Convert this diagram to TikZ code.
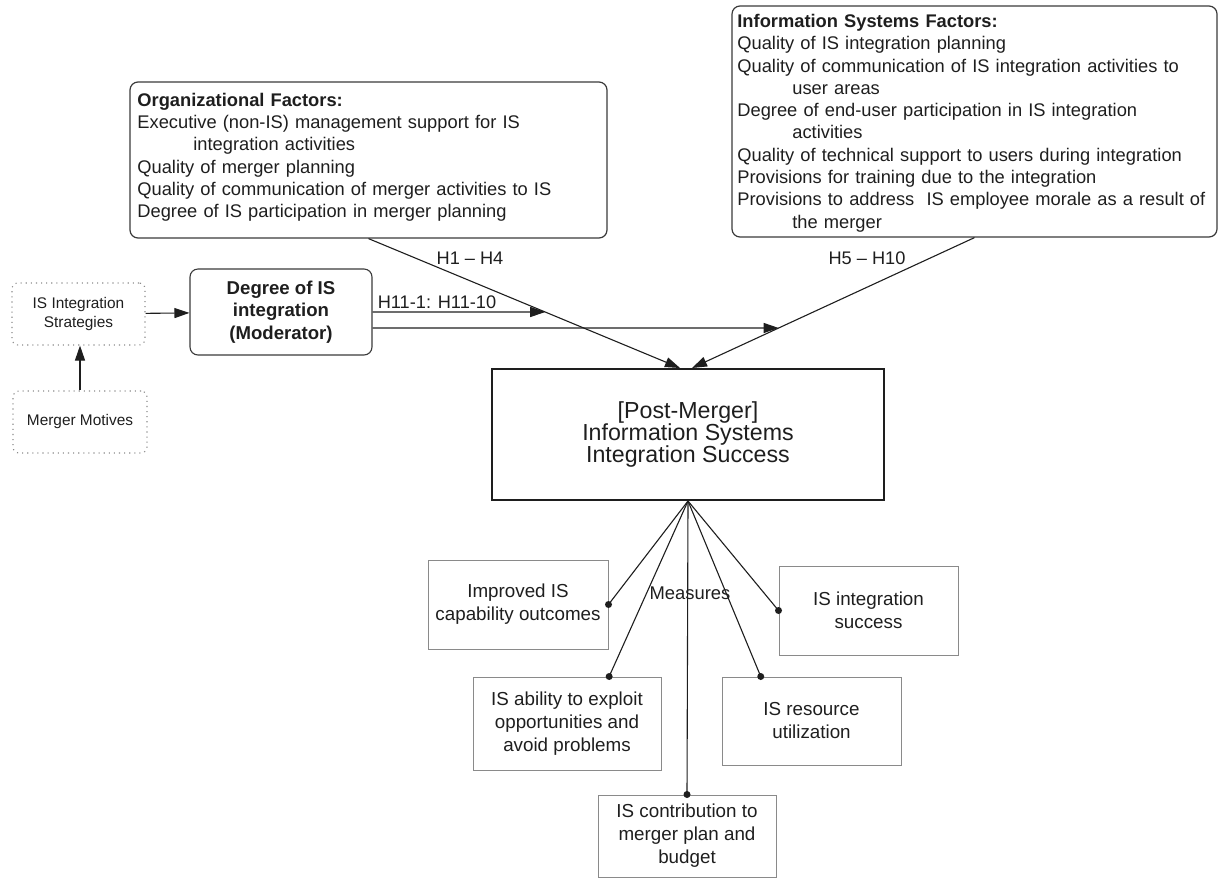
\documentclass[tikz,border=0pt]{standalone}
\usepackage{fontspec}
\setmainfont{Liberation Sans}
\usetikzlibrary{arrows.meta,calc}
\definecolor{ink}{HTML}{1E1E1E}
\definecolor{frame}{HTML}{3A3A3A}
\definecolor{soft}{HTML}{8A8A8A}

\begin{document}
\begin{tikzpicture}[x=0.5pt,y=-0.5pt,
  every node/.style={text=ink},
  factorbox/.style={draw=frame, line width=0.6pt, rounded corners=4pt, inner sep=0pt},
  factortext/.style={anchor=north west, inner sep=0pt, align=left, text width=240pt,
    font=\fontsize{9.15}{11.15}\selectfont},
  modbox/.style={draw=frame, line width=0.55pt, rounded corners=4pt, align=center,
    inner sep=0pt, font=\bfseries\fontsize{9.3}{11.25}\selectfont},
  outcome/.style={draw=ink, line width=1pt, align=center, inner sep=0pt,
    font=\fontsize{11.6}{11.1}\selectfont},
  antecedent/.style={draw=soft, dotted, line width=0.55pt, rounded corners=3pt,
    align=center, inner sep=0pt, font=\fontsize{7.7}{9.5}\selectfont},
  measure/.style={draw=soft, line width=0.5pt, align=center, inner sep=0pt,
    font=\fontsize{9.4}{11.5}\selectfont},
  hlabel/.style={inner sep=0pt, font=\fontsize{9.1}{11}\selectfont},
  link/.style={draw=ink, line width=0.55pt},
  arr/.style={link, -{Triangle[length=7.5pt,width=5pt]}},
  dot/.style={fill=ink}
]
\useasboundingbox (0,0) rectangle (1220,879);

% factor boxes
\node[factorbox, minimum width=242.5pt, minimum height=115.5pt] (isf) at (974.5,121.5) {};
\node[factortext] (isftext) at (737,11.4) {\strut\textbf{Information Systems Factors:}\\
Quality of IS integration planning\\
Quality of communication of IS integration activities to\\
\hspace*{27.5pt}user areas\\
Degree of end-user participation in IS integration\\
\hspace*{27.5pt}activities\\
Quality of technical support to users during integration\\
Provisions for training due to the integration\\
Provisions to address\ \ IS employee morale as a result of\\
\hspace*{27.5pt}the merger};

\node[factorbox, minimum width=238.5pt, minimum height=78pt] (org) at (368.5,160) {};
\node[factortext] (orgtext) at (137,90.1) {\strut\textbf{Organizational Factors:}\\
Executive (non-IS) management support for IS\\
\hspace*{28pt}integration activities\\
Quality of merger planning\\
Quality of communication of merger activities to IS\\
Degree of IS participation in merger planning};

% moderator and its antecedents
\node[modbox, minimum width=91pt, minimum height=43pt] (deg) at (281,312)
  {Degree of IS\\integration\\(Moderator)};
\node[antecedent, minimum width=66.5pt, minimum height=31pt] (strat) at (78.5,314)
  {IS Integration\\Strategies};
\node[antecedent, minimum width=67pt, minimum height=31pt] (mot) at (80,422)
  {Merger Motives};

% dependent construct
\node[outcome, minimum width=196pt, minimum height=65.5pt] (pm) at (688,434.5)
  {[Post-Merger]\\Information Systems\\Integration Success};

% measures
\node[measure, minimum width=90pt, minimum height=44.5pt] (imp) at (518,604.5)
  {Improved IS\\capability outcomes};
\node[measure, minimum width=94pt, minimum height=46.5pt] (abil) at (567,723.5)
  {IS ability to exploit\\opportunities and\\avoid problems};
\node[measure, minimum width=89.5pt, minimum height=44.5pt] (succ) at (868.5,610.5)
  {IS integration\\success};
\node[measure, minimum width=89.5pt, minimum height=44pt] (res) at (811.5,721)
  {IS resource\\utilization};
\node[measure, minimum width=89pt, minimum height=41pt] (contr) at (687,836)
  {IS contribution to\\merger plan and\\budget};

% hypothesis labels
\node[hlabel] (h14) at (470,258) {H1 – H4};
\node[hlabel] (h510) at (867,258) {H5 – H10};
\node[hlabel] (h11) at (437,302) {H11-1: H11-10};
\node[hlabel, font=\fontsize{9.2}{11}\selectfont] (meas) at (690,593) {Measures};

% main effects
\coordinate (tipA) at ($(pm.north)+(-8,0)$);
\coordinate (tipB) at ($(pm.north)+(4,0)$);
\draw[arr] (org.south) -- (tipA);
\draw[arr] (isf.south) -- (tipB);

% moderating effects, ending on the main-effect paths
\coordinate (degU) at (deg.east);
\coordinate (degUfar) at ($(degU)+(100,0)$);
\coordinate (degL) at ($(deg.east)+(0,16)$);
\coordinate (degLfar) at ($(degL)+(100,0)$);
\coordinate (modA) at (intersection of org.south--tipA and degU--degUfar);
\coordinate (modB) at (intersection of isf.south--tipB and degL--degLfar);
\draw[arr] (degU) -- (modA);
\draw[arr] (degL) -- (modB);

% antecedents of the moderator
\draw[arr] (strat) -- (deg);
\draw[arr] (mot.north) -- (mot.north |- strat.south);

% measurement links
\coordinate (abilTop) at ($(abil.north west)!0.723!(abil.north east)$);
\coordinate (resTop) at ($(res.north west)!0.218!(res.north east)$);
\foreach \t in {imp.east, abilTop, contr.north, resTop, succ.west} {
  \draw[link] (pm.south) -- (\t);
  \fill[dot] (\t) circle[radius=1.75pt];
}
\end{tikzpicture}
\end{document}
